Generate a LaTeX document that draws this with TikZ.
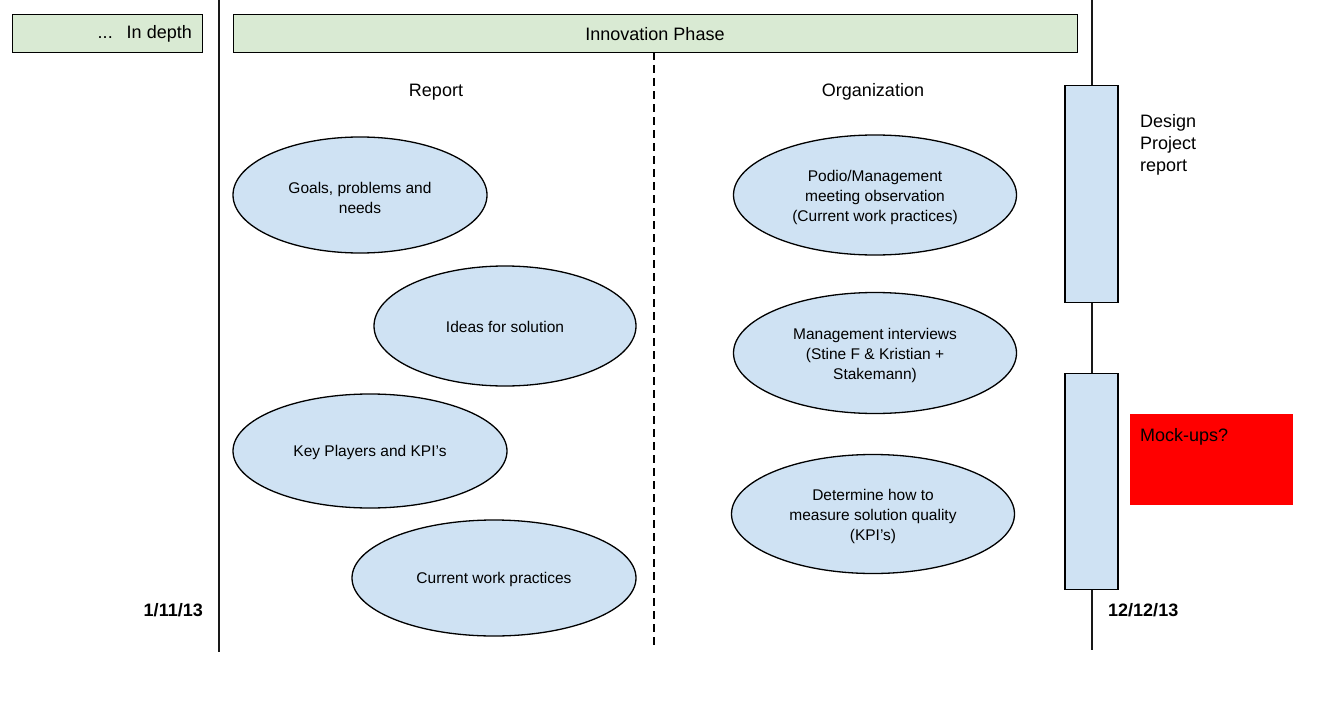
\documentclass[tikz,border=0pt]{standalone}
\usepackage{fontspec}
\setmainfont{Liberation Sans}
\usetikzlibrary{shapes.geometric}
\definecolor{phasegreen}{HTML}{D9EAD3}
\definecolor{ovalblue}{HTML}{CFE2F3}
\definecolor{mockred}{HTML}{FF0000}
\newcommand\ovalstrut{\rule{0pt}{17pt}}
\newcommand\onestrut{\rule{0pt}{14pt}}
\begin{document}
\begin{tikzpicture}[x=1pt,y=-1pt,
  phasebox/.style={draw=black, line width=1.4pt, fill=phasegreen, minimum height=38pt, inner sep=0pt},
  oval/.style={ellipse, draw=black, line width=1.3pt, fill=ovalblue, inner sep=0pt, align=center, font=\fontsize{15.5}{20}\selectfont},
  bar/.style={draw=black, line width=1.4pt, fill=ovalblue, minimum width=53pt, inner sep=0pt},
  heading/.style={font=\fontsize{18}{22}\selectfont, inner sep=0pt},
  datelabel/.style={font=\fontsize{18}{22}\selectfont\bfseries, inner sep=0pt},
  timeline/.style={line width=1.3pt, draw=black!90}
]
\useasboundingbox (0,0) rectangle (1344,709);
% timelines
\coordinate (lt) at (219,0);
\coordinate (lb) at (219,652);
\coordinate (rt) at (1092,0);
\coordinate (rb) at (1092,650);
\coordinate (dt) at (654,52);
\coordinate (db) at (654,648);
\draw[timeline] (lt) -- (lb);
\draw[timeline] (rt) -- (rb);
\draw[line width=1.2pt, dash pattern=on 8pt off 5pt] (dt) -- (db);
% phase boxes
\node[phasebox, minimum width=190pt, anchor=north west] (indepth) at (12,14) {};
\node[heading, anchor=east] (indepthtxt) at (192,34) {...\hspace{14pt}In depth};
\node[phasebox, minimum width=844pt, anchor=north west] (innov) at (233,14) {};
\node[heading] (innovtxt) at (655,34) {Innovation Phase};
% column headings
\node[heading] (report) at (436,92) {Report};
\node[heading] (org) at (873,92) {Organization};
% ovals
\node[oval, minimum width=254pt, minimum height=116pt] (goals) at (360,195) {\ovalstrut Goals, problems and\\needs};
\node[oval, minimum width=262pt, minimum height=120pt] (ideas) at (505,326) {\onestrut Ideas for solution};
\node[oval, minimum width=274pt, minimum height=114pt] (key) at (370,451) {\onestrut Key Players and KPI's};
\node[oval, minimum width=284pt, minimum height=116pt] (cwp) at (494,578) {\onestrut Current work practices};
\node[oval, minimum width=283pt, minimum height=120pt] (podio) at (875,195) {\ovalstrut Podio/Management\\meeting observation\\(Current work practices)};
\node[oval, minimum width=283pt, minimum height=121pt] (mgmt) at (875,353) {\ovalstrut Management interviews\\(Stine F \& Kristian +\\Stakemann)};
\node[oval, minimum width=283pt, minimum height=119pt] (determine) at (873,514) {\ovalstrut Determine how to\\measure solution quality\\(KPI's)};
% bars
\node[bar, minimum height=217pt, anchor=north] (bar1) at (1091.5,85) {};
\node[bar, minimum height=216pt, anchor=north] (bar2) at (1091.5,373) {};
\node[heading, anchor=north west, align=left] (design) at (1140,114) {Design\\Project\\report};
% mock-ups
\node[fill=mockred, minimum width=163pt, minimum height=91pt, anchor=north west, inner sep=0pt] (mock) at (1130,414) {};
\node[heading, anchor=north west] (mocktxt) at (1140,428) {Mock-ups?};
% dates
\node[datelabel, anchor=east] (d1) at (203,610) {1/11/13};
\node[datelabel, anchor=west] (d2) at (1108,610) {12/12/13};
\end{tikzpicture}
\end{document}
